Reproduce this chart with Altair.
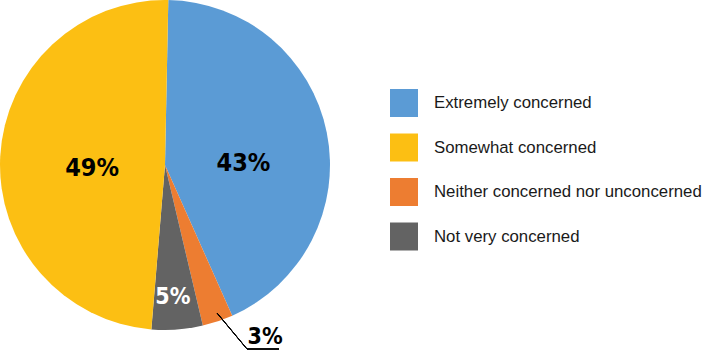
import altair as alt
import pandas as pd

categories = ["Extremely concerned", "Neither concerned nor unconcerned", "Not very concerned", "Somewhat concerned"]
values = [43, 3, 5, 49]
labels = ["43%", "3%", "5%", "49%"]
stack_order = [1, 2, 3, 4]
legend_order = ["Extremely concerned", "Somewhat concerned", "Neither concerned nor unconcerned", "Not very concerned"]
legend_colors = ["#5B9BD5", "#FCBF13", "#ED7D31", "#636363"]

df = pd.DataFrame({"category": categories, "value": values, "label": labels, "ord": stack_order})

theta_scale = alt.Scale(domain=[0, 100], range=[0.02, 6.3032])
cx, cy, R = 165, 165, 165

pie = alt.Chart(df).mark_arc(radius=R, stroke=None).encode(
    theta=alt.Theta("value:Q", stack=True, scale=theta_scale),
    order=alt.Order("ord:Q"),
    x=alt.value(cx), y=alt.value(cy),
    color=alt.Color("category:N",
                    scale=alt.Scale(domain=legend_order, range=legend_colors),
                    legend=alt.Legend(title=None, orient="none", legendX=390, legendY=89,
                                      symbolType="square", symbolSize=784, symbolStrokeWidth=0,
                                      symbolOpacity=1, labelFont="Liberation Sans", labelFontSize=16.8,
                                      labelColor="#1a1a1a", labelOffset=16, rowPadding=16.5,
                                      padding=0, labelLimit=400))
)

lab_base = alt.Chart(df).transform_window(
    cum="sum(value)", sort=[alt.SortField("ord")]
).transform_calculate(mid="datum.cum - datum.value / 2").encode(
    theta=alt.Theta("mid:Q", scale=theta_scale),
    x=alt.value(cx), y=alt.value(cy),
    text="label:N",
)

label_font = "DejaVu Sans Condensed"

lab43 = lab_base.mark_text(radius=78, font=label_font, fontWeight="bold", fontSize=25, color="#000000", dx=2, dy=13
                           ).transform_filter(alt.datum.label == "43%")
lab49 = lab_base.mark_text(radius=73, font=label_font, fontWeight="bold", fontSize=25, color="#000000", dy=7
                           ).transform_filter(alt.datum.label == "49%")
lab5 = lab_base.mark_text(radius=132, font=label_font, fontWeight="bold", fontSize=23, color="#ffffff", dx=-2
                          ).transform_filter(alt.datum.label == "5%")
lab3 = lab_base.mark_text(radius=185, font=label_font, fontWeight="bold", fontSize=23, color="#000000", dx=41, dy=-3
                          ).transform_filter(alt.datum.label == "3%")

leader1 = alt.Chart(df).mark_rule(color="#000000", strokeWidth=1).encode(
    x=alt.value(217), y=alt.value(313), x2=alt.value(247), y2=alt.value(349))
leader2 = alt.Chart(df).mark_rule(color="#000000", strokeWidth=1).encode(
    x=alt.value(247), y=alt.value(349), x2=alt.value(279), y2=alt.value(349))

chart = alt.layer(pie, lab43, lab49, lab5, lab3, leader1, leader2).properties(
    width=705, height=354, autosize=alt.AutoSizeParams(type="none"), padding=0
).configure_view(stroke=None)

chart.save("out.html", embed_options={"renderer": "svg", "actions": False})
